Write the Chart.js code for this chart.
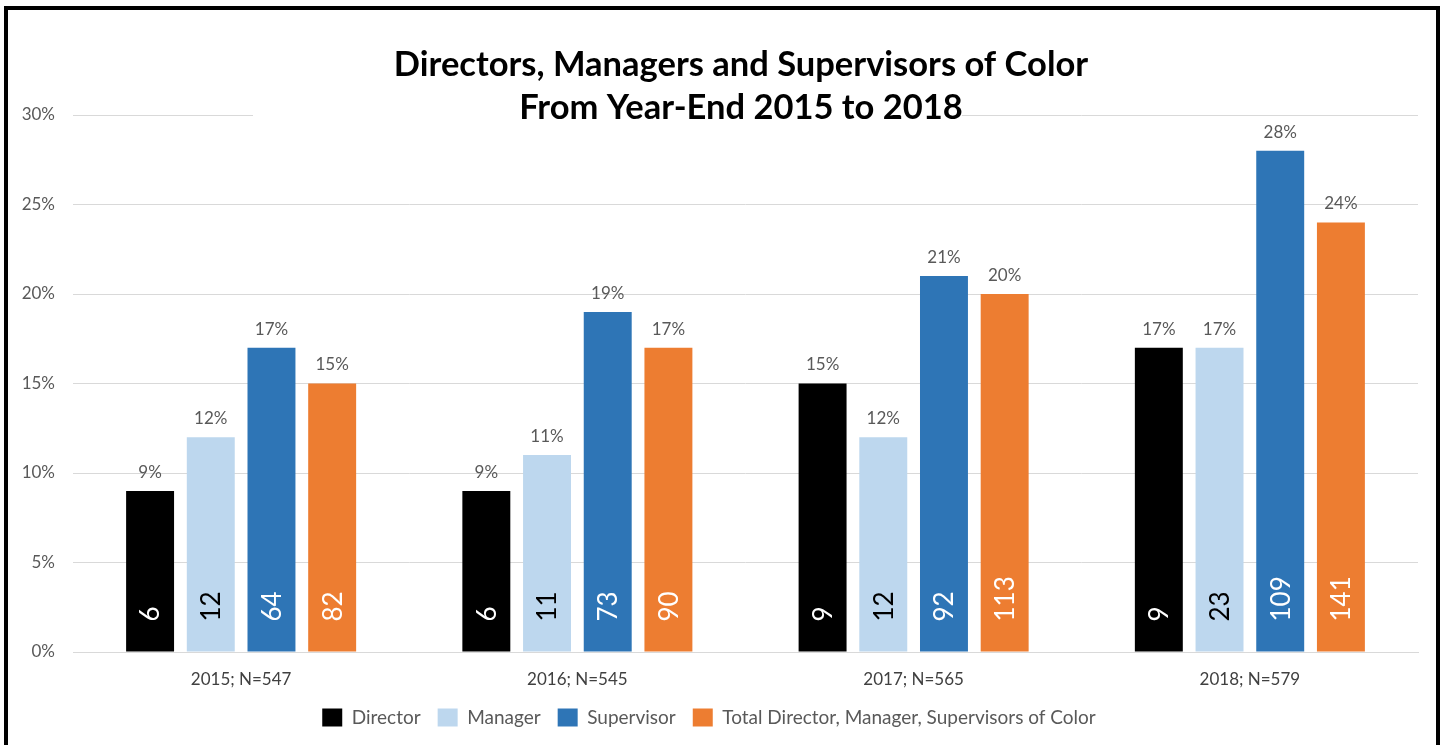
<!DOCTYPE html>
<html>
<head>
<meta charset="utf-8">
<script src="https://cdn.jsdelivr.net/npm/chart.js@4/dist/chart.umd.min.js"></script>
<style>
  html, body { margin: 0; padding: 0; background: #fff; overflow: hidden; }
  #wrap { position: relative; width: 1443px; height: 745px; }
  #frame { position: absolute; left: 4px; top: 6px; width: 1428px; height: 800px; border: 4px solid #000; pointer-events: none; }
</style>
</head>
<body>
<div id="wrap">
  <canvas id="c" width="1443" height="745"></canvas>
  <div id="frame"></div>
</div>
<script>
const categories = ['2015; N=547', '2016; N=545', '2017; N=565', '2018; N=579'];
const seriesNames = ['Director', 'Manager', 'Supervisor', 'Total Director, Manager, Supervisors of Color'];
const directorPct = [9, 9, 15, 17];
const managerPct = [12, 11, 12, 17];
const supervisorPct = [17, 19, 21, 28];
const totalPct = [15, 17, 20, 24];
const directorCount = [6, 6, 9, 9];
const managerCount = [12, 11, 12, 23];
const supervisorCount = [64, 73, 92, 109];
const totalCount = [82, 90, 113, 141];
const yTicks = [0, 5, 10, 15, 20, 25, 30];
const titleLines = ['Directors, Managers and Supervisors of Color', 'From Year-End 2015 to 2018'];

const colors = ['#000000', '#BDD7EE', '#2E75B6', '#ED7D31'];
const countColors = ['#ffffff', '#000000', '#ffffff', '#ffffff'];
const counts = [directorCount, managerCount, supervisorCount, totalCount];
const FONT = 'Lato, Carlito, Calibri, sans-serif';

const titlePlugin = {
  id: 'titleBox',
  beforeDatasetsDraw(chart) {
    const ctx = chart.ctx;
    ctx.save();
    ctx.fillStyle = '#ffffff';
    ctx.fillRect(253, 100, 709, 20);
    ctx.fillStyle = '#000000';
    ctx.font = 'bold 34.5px ' + FONT;
    ctx.textAlign = 'center';
    ctx.textBaseline = 'middle';
    ctx.fillText(titleLines[0], 741, 65);
    ctx.fillText(titleLines[1], 741, 108);
    ctx.restore();
  }
};

const labelPlugin = {
  id: 'barLabels',
  afterDatasetsDraw(chart) {
    const ctx = chart.ctx;
    chart.data.datasets.forEach((ds, i) => {
      const meta = chart.getDatasetMeta(i);
      meta.data.forEach((bar, j) => {
        ctx.save();
        ctx.fillStyle = '#595959';
        ctx.font = '17px ' + FONT;
        ctx.textAlign = 'center';
        ctx.textBaseline = 'bottom';
        ctx.fillText(ds.data[j] + '%', bar.x, bar.y - 10);
        ctx.restore();

        ctx.save();
        ctx.translate(bar.x + 1, bar.base - 30);
        ctx.rotate(-Math.PI / 2);
        ctx.fillStyle = countColors[i];
        ctx.font = '26px ' + FONT;
        ctx.textAlign = 'left';
        ctx.textBaseline = 'middle';
        ctx.fillText(String(counts[i][j]), 0, 0);
        ctx.restore();
      });
    });
  }
};

new Chart(document.getElementById('c'), {
  type: 'bar',
  data: {
    labels: categories,
    datasets: [directorPct, managerPct, supervisorPct, totalPct].map((d, i) => ({
      label: seriesNames[i],
      data: d,
      backgroundColor: colors[i],
      borderWidth: 0,
      categoryPercentage: 0.722,
      barPercentage: 0.79
    }))
  },
  options: {
    responsive: false,
    animation: false,
    layout: { padding: { top: 115, right: 25, left: 0, bottom: 8 } },
    plugins: {
      title: { display: false },
      tooltip: { enabled: false },
      legend: {
        position: 'bottom',
        labels: {
          color: '#595959',
          font: { family: FONT, size: 19 },
          boxWidth: 20,
          boxHeight: 18,
          padding: 17
        }
      }
    },
    scales: {
      x: {
        grid: { display: false, drawTicks: false },
        border: { display: true, color: '#d9d9d9' },
        ticks: { color: '#404040', font: { family: FONT, size: 17 }, padding: 17 },
        afterFit(scale) { scale.height = 39; }
      },
      y: {
        min: 0, max: 30,
        afterBuildTicks(scale) { scale.ticks = yTicks.map(v => ({ value: v })); },
        grid: { color: '#d9d9d9', drawTicks: false },
        border: { display: false },
        ticks: { color: '#595959', font: { family: FONT, size: 17 }, padding: 18, callback: v => v + '%' },
        afterFit(scale) { scale.width = 73; }
      }
    }
  },
  plugins: [titlePlugin, labelPlugin]
});
</script>
</body>
</html>
